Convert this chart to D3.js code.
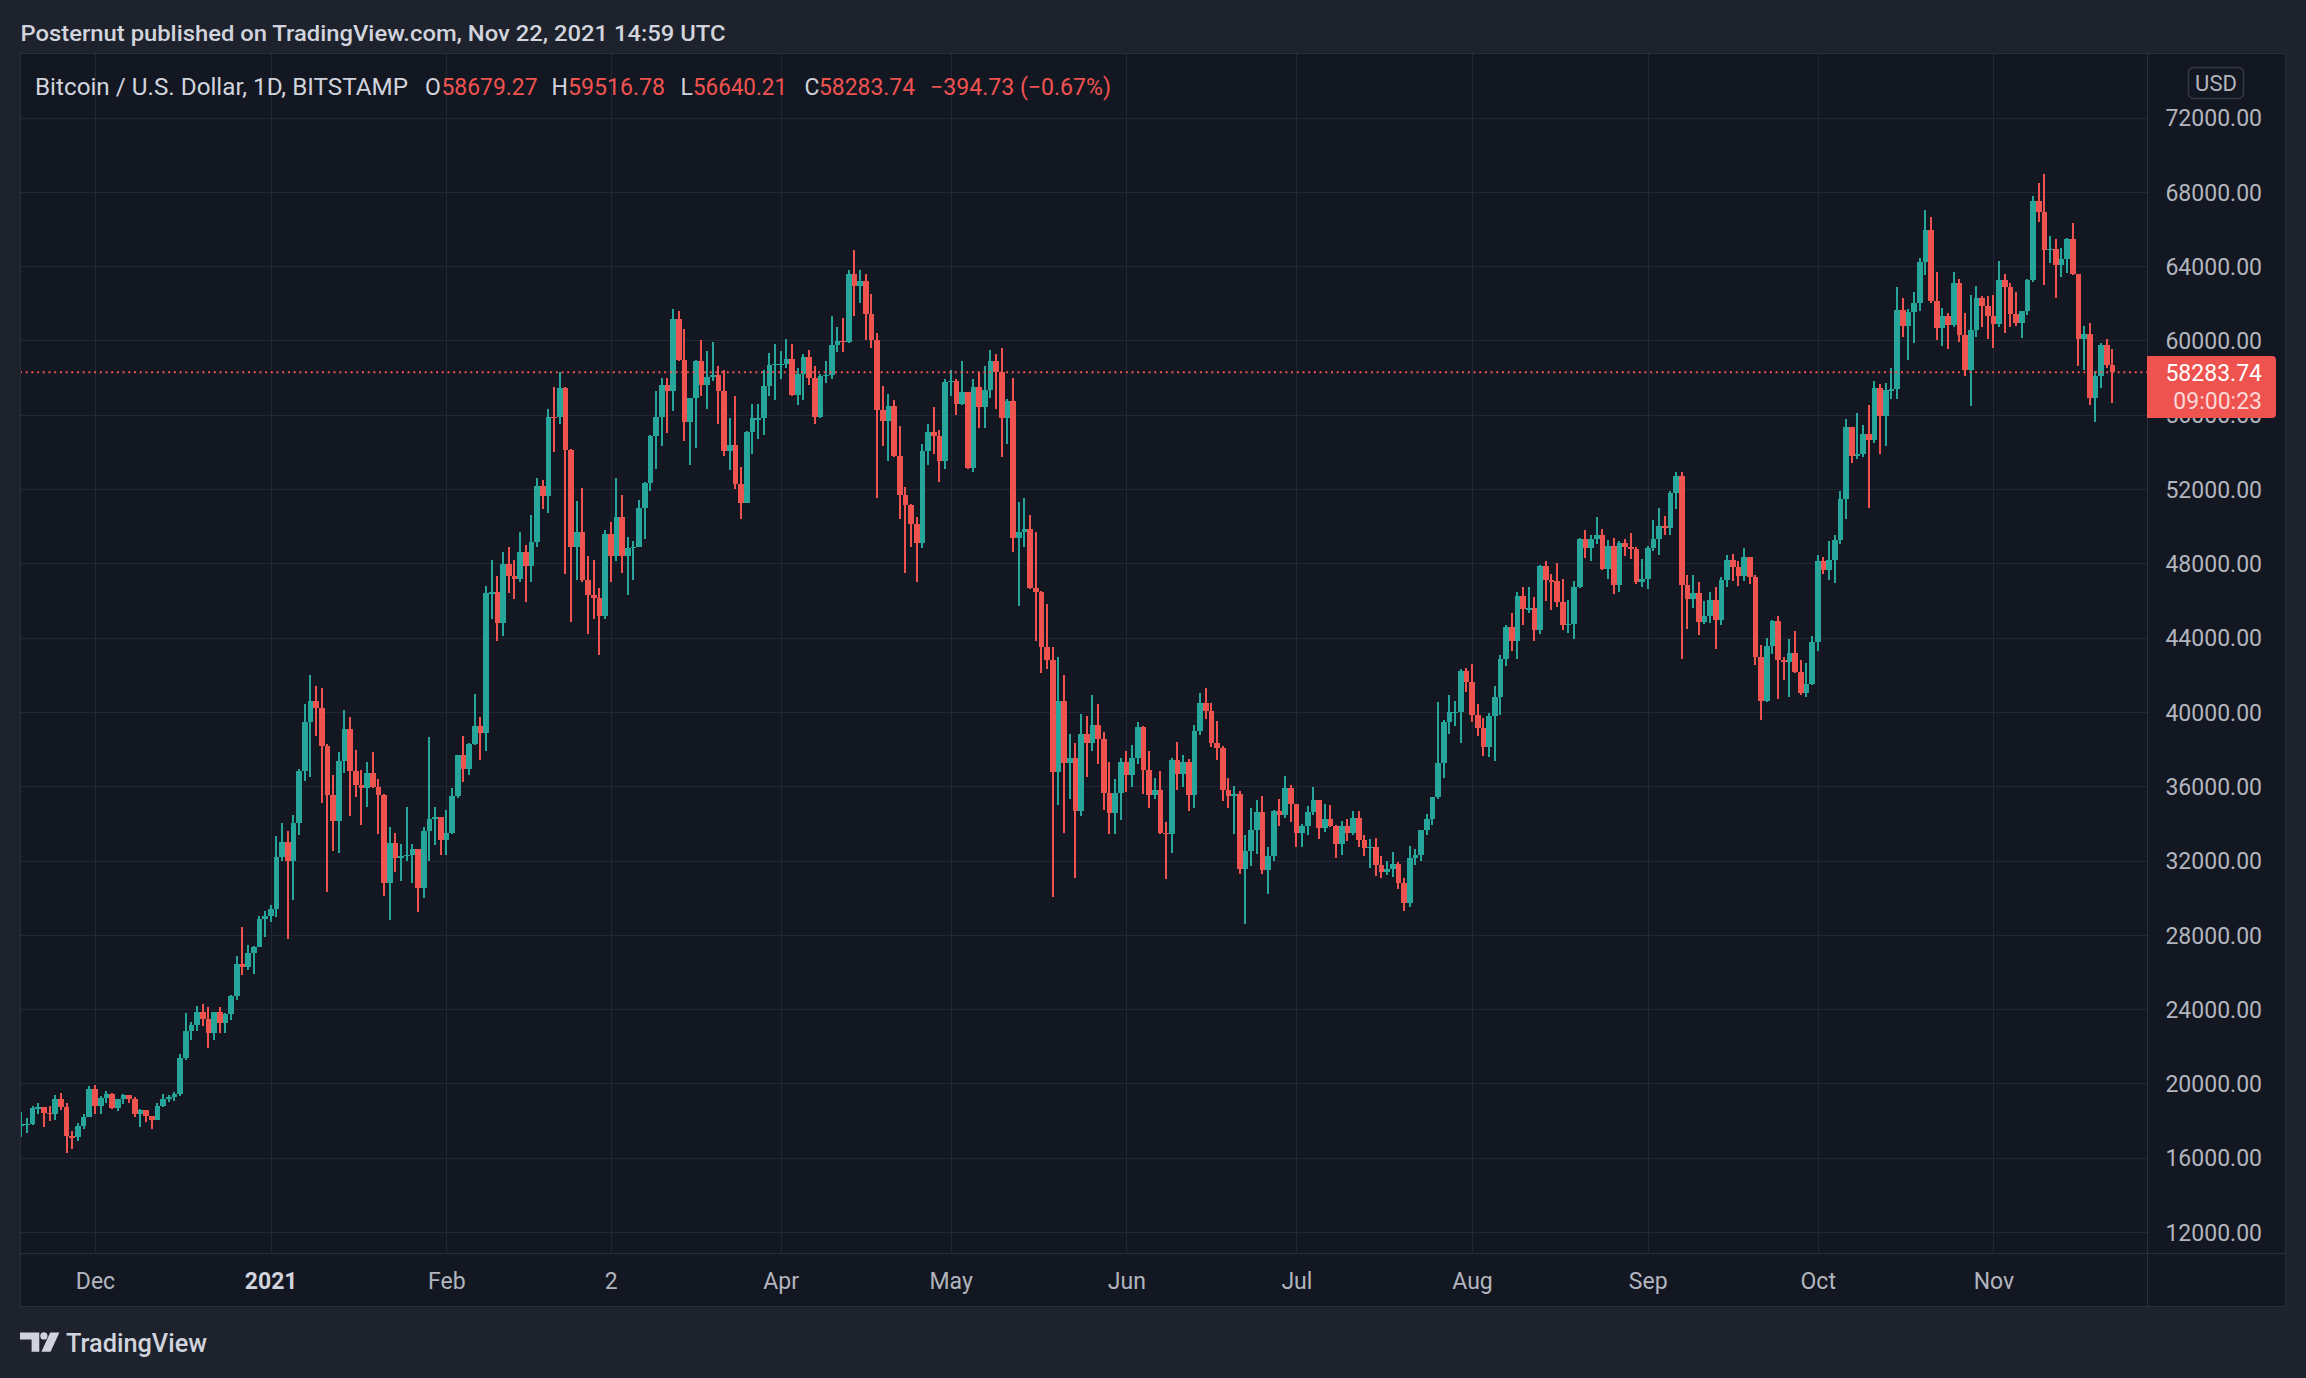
<!DOCTYPE html>
<html>
<head>
<meta charset="utf-8">
<script src="https://cdn.jsdelivr.net/npm/d3@7/dist/d3.min.js"></script>
<style>
  html, body { margin:0; padding:0; background:#1e222d; overflow:hidden; }
  svg { display:block; }
</style>
</head>
<body>
<svg id="chart" width="2306" height="1378"></svg>
<script>
// ---------------- DATA (BTC/USD daily, Bitstamp, 2020-11-18 .. 2021-11-22) ----------------
const startDate = "2020-11-18";

const opens = [
 17780,17810,17820,18680,18720,18420,18370,19160,18720,17150,17130,17720,18180,
 19700,18770,19220,19440,18700,19150,19370,19180,18330,18550,18250,18040,18800,19160,19270,19440,21350,22820,23140,23860,23480,22740,23820,23240,23730,24690,26440,26250,27030,27360,28860,
 28990,29390,32180,33000,31990,34020,36820,39460,40610,40200,38180,35500,34120,37370,39100,36800,36050,35880,36720,35980,35500,30790,32950,32120,32250,32300,32600,30540,33590,34250,34320,
 33080,33500,35470,37670,36920,38290,39260,38840,46400,46450,44760,47960,47330,47150,48600,47880,49140,52170,51600,55900,55880,57440,54100,48900,49700,47100,46300,46150,
 45140,49600,48400,50500,48400,48800,48900,51000,52300,54850,55850,57600,57300,61150,58950,55600,56900,58900,57600,58050,58150,57300,54050,54350,52250,51250,55050,55800,55800,57550,58700,
 58750,58750,59000,57050,58200,59100,57980,55850,58100,58150,59750,59970,59900,63550,62920,63200,61420,60030,56230,55680,56480,53750,51700,51130,50100,49080,54050,55060,54850,53520,
 57770,57830,56550,57200,53150,57500,56400,57330,58900,58280,55830,56750,49350,49700,49850,46650,46450,43520,42820,36750,40600,37260,37500,34650,38800,38350,39270,38550,35650,34580,35650,
 37300,36620,37500,39190,36860,35510,35800,33500,33400,37390,36660,37300,35550,38960,40470,40050,38350,38050,35800,35460,35600,31540,32500,33640,34610,31490,32240,34680,34460,35900,
 35040,33500,33880,34630,35260,33740,34230,33860,32870,33840,33500,34290,33100,32650,32750,31780,31400,31530,31800,30770,29730,32120,32300,33640,34260,35430,37230,39470,39980,40020,42200,
 41630,39830,39120,38130,39760,40820,42830,44590,43800,46240,45550,45590,44420,47830,47100,47030,45930,44690,44750,46750,49300,48850,49300,49550,47700,48950,46850,49070,48900,48780,47020,
 47150,48850,49300,50030,49920,51800,52700,46840,46060,46380,44830,45160,46030,44930,47100,48160,47800,47300,48330,47240,42950,40600,43560,44900,42780,42700,43180,42160,41020,41520,
 43780,48120,47650,48200,49250,51460,55360,53780,53900,54950,54660,57440,55950,57330,57360,61640,60800,61540,62010,64230,65970,62120,60650,61330,60840,63090,60280,58420,60580,62260,61870,
 61300,60900,63250,62880,61400,60940,61560,63250,67520,66900,64850,64930,64080,64390,65460,63560,60100,60340,56880,58080,59750,58679.27
];

const highs = [
 18480,18150,18800,18960,18730,18770,19400,19480,18920,17450,17880,18330,19860,
 19920,19320,19570,19500,19170,19420,19400,19290,18640,18560,18270,18950,19410,19350,19560,21560,23770,23280,24170,24300,24100,23840,24100,23780,24770,26860,28400,27450,27400,28990,29300,
 29600,33300,34000,33600,34450,36940,40400,41990,41380,41300,38270,36600,37850,40100,39700,37950,36850,37300,37850,36400,35600,33800,33500,32900,34870,32900,32600,33800,38650,34900,34320,
 34700,35900,37700,38700,38300,40950,39700,46800,48180,47300,48600,48900,48200,49700,49000,50600,52600,52500,56300,57500,58300,57500,54150,51380,52050,48400,48200,46650,
 49800,50200,52600,51700,49400,49200,51400,52400,54900,57300,58000,58000,61700,61600,60600,56900,58950,60000,59450,59900,58600,58400,55800,57000,53200,55100,56600,56600,58400,59300,59800,
 59450,60100,59800,58500,59250,59500,58600,58200,58900,61300,60700,61200,63800,64870,63800,63550,62500,60400,57550,57100,56800,55400,52100,51200,50500,54400,55500,56400,55200,57900,
 58400,57900,58900,57200,57900,58300,58600,59500,59250,59600,56850,58000,51300,51500,50600,49700,46500,45800,43500,42940,42000,38800,38300,39900,39800,40900,40400,38900,37300,36400,37500,
 37900,38200,39450,39250,37900,36450,36800,34050,37500,38400,37700,37450,39300,41000,41300,40500,39500,38150,36450,36000,35750,33350,34800,35250,35450,32700,34700,35300,36550,36050,
 35050,33950,34950,35950,35260,35050,35000,33900,34100,34250,34650,34650,33350,33150,33200,32250,31950,32450,31900,31050,32800,32600,33600,34500,35400,40540,39550,40900,40600,42300,42350,
 42600,40450,39650,39950,41400,43050,44700,45300,46450,46700,46750,46200,47900,48150,47400,48000,47150,46000,47050,49350,49800,49500,50500,49850,49250,49350,49200,49300,49650,48900,48250,
 48950,50350,51000,50550,51900,52900,52900,47350,47350,47000,45950,46450,46750,47250,48450,48500,48150,48800,48350,47350,43600,44000,44950,45150,42950,43900,44350,42800,42650,44100,
 48450,48350,49200,49500,51900,55750,55350,56100,55450,56500,57800,57650,57700,58500,62900,62300,61700,62600,64450,67000,66650,63700,61750,61450,63700,63300,61450,62450,62950,62400,62400,
 62450,64300,63550,63100,62600,61550,63300,67750,68500,68960,65600,65450,64950,65500,66300,63600,60800,60950,58350,59850,60050,59516.78
];

const lows = [
 17100,17350,17760,18350,17650,18000,18030,18560,16250,16450,16900,17530,18180,
 18330,18350,18940,18600,18520,18900,18920,18200,17650,17910,17570,18020,18740,19000,19050,19300,21240,22350,22800,23100,21900,22360,22700,22700,23440,24500,25850,26100,25880,27330,27900,
 28700,28950,32000,27780,29900,33350,36300,36500,38700,35100,30300,32500,32400,36700,34400,35400,33900,34900,35900,33400,30070,28820,31400,30900,31950,30800,29240,30000,31950,32850,32300,
 32300,33400,35380,36200,36600,38200,37400,37900,45000,43800,44100,46400,46100,47000,45900,47000,48900,50900,50700,54000,55500,47400,44860,47100,47000,44190,45000,43040,
 45000,47000,48100,47500,46300,47100,48900,49300,51900,53100,54300,55000,56200,58900,54600,53300,54200,57000,56300,57800,55500,53800,53000,52000,50400,51300,53900,54700,54900,57000,56800,
 57900,58500,57000,56500,56800,57600,55500,55800,57700,57900,59400,59400,59850,61300,62000,60000,59600,51540,54300,53500,53700,50400,47500,48900,47000,48800,53300,53900,52400,53100,
 57000,56000,56500,53100,52900,55300,55300,56900,56300,53700,54400,48600,45700,48900,46600,43800,42100,42300,30050,35000,33500,35300,31070,34400,36500,37900,37200,34700,33400,33400,34200,
 35700,35950,37200,35600,34800,35300,33400,31000,32400,35800,35950,34650,34800,38750,39600,38100,37400,35200,34850,33400,31300,28600,31700,32350,31300,30200,32000,33850,34300,34050,
 32750,32700,33350,34450,33150,33550,33800,32150,32300,33050,33350,32700,32250,31600,31150,31050,31200,31100,30450,29300,29500,31750,31950,33350,33900,35300,36450,38800,39250,38350,41050,
 39450,38700,37650,37550,37350,39850,42450,43300,42850,44700,45350,43800,44200,45950,45500,45650,44400,44250,43950,46650,48300,48100,49050,47650,47150,46350,46450,48400,48250,46900,46700,
 46600,48650,48450,49500,49500,50950,42860,44450,45600,44150,44750,44800,43400,44700,46700,47050,46800,47050,46900,42500,39560,40550,43100,40700,41700,40800,42100,40900,40800,41450,
 43300,47450,47100,46950,49050,50400,53400,53600,53700,51000,54450,53900,54300,56850,56850,60200,58950,59850,61600,63500,62000,60000,59700,59550,60700,59900,58100,56450,60200,60700,60050,
 59600,60700,60400,60700,60750,60150,61350,63150,66400,63000,64150,62300,63400,63650,63500,58600,58400,56500,55630,57450,58500,56640.21
];

const closes = [
 17810,17820,18680,18720,18420,18370,19160,18720,17150,17130,17720,18180,19700,
 18770,19220,19440,18700,19150,19370,19180,18330,18550,18250,18040,18800,19160,19270,19440,21350,22820,23140,23860,23480,22740,23820,23240,23730,24690,26440,26250,27030,27360,28860,28990,
 29390,32180,33000,31990,34020,36820,39460,40610,40200,38180,35500,34120,37370,39100,36800,36050,35880,36720,35980,35500,30790,32950,32120,32250,32300,32600,30540,33590,34250,34320,33080,
 33500,35470,37670,36920,38290,39260,38840,46400,46450,44760,47960,47330,47150,48600,47880,49140,52170,51600,55900,55880,57440,54100,48900,49700,47100,46300,46150,45140,
 49600,48400,50500,48400,48800,48900,51000,52300,54850,55850,57600,57300,61150,58950,55600,56900,58900,57600,58050,58150,57300,54050,54350,52250,51250,55050,55800,55800,57550,58700,58750,
 58750,59000,57050,58200,59100,57980,55850,58100,58150,59750,59970,59900,63550,62920,63200,61420,60030,56230,55680,56480,53750,51700,51130,50100,49080,54050,55060,54850,53520,57770,
 57830,56550,57200,53150,57500,56400,57330,58900,58280,55830,56750,49350,49700,49850,46650,46450,43520,42820,36750,40600,37260,37500,34650,38800,38350,39270,38550,35650,34580,35650,37300,
 36620,37500,39190,36860,35510,35800,33500,33400,37390,36660,37300,35550,38960,40470,40050,38350,38050,35800,35460,35600,31540,32500,33640,34610,31490,32240,34680,34460,35900,35040,
 33500,33880,34630,35260,33740,34230,33860,32870,33840,33500,34290,33100,32650,32750,31780,31400,31530,31800,30770,29730,32120,32300,33640,34260,35430,37230,39470,39980,40020,42200,41630,
 39830,39120,38130,39760,40820,42830,44590,43800,46240,45550,45590,44420,47830,47100,47030,45930,44690,44750,46750,49300,48850,49300,49550,47700,48950,46850,49070,48900,48780,47020,47150,
 48850,49300,50030,49920,51800,52700,46840,46060,46380,44830,45160,46030,44930,47100,48160,47800,47300,48330,47240,42950,40600,43560,44900,42780,42700,43180,42160,41020,41520,43780,
 48120,47650,48200,49250,51460,55360,53780,53900,54950,54660,57440,55950,57330,57360,61640,60800,61540,62010,64230,65970,62120,60650,61330,60840,63090,60280,58420,60580,62260,61870,61300,
 60900,63250,62880,61400,60940,61560,63250,67520,66900,64850,64930,64080,64390,65460,63560,60100,60340,56880,58080,59750,58678.47,58283.74
];

const priceTicks = [12000,16000,20000,24000,28000,32000,36000,40000,44000,48000,52000,56000,60000,64000,68000,72000];
const monthTickDates = ["2020-12-01","2021-01-01","2021-02-01","2021-03-02","2021-04-01","2021-05-01","2021-06-01","2021-07-01","2021-08-01","2021-09-01","2021-10-01","2021-11-01"];
const monthTickLabels = ["Dec","2021","Feb","2","Apr","May","Jun","Jul","Aug","Sep","Oct","Nov"];

const headerText = "Posternut published on TradingView.com, Nov 22, 2021 14:59 UTC";
const symbolTitle = "Bitcoin / U.S. Dollar, 1D, BITSTAMP";
const currencyLabel = "USD";
const countdownText = "09:00:23";
const brandText = "TradingView";

// ---------------- STYLE ----------------
const UP = "#26a69a", DOWN = "#ef5350";
const FONT = "Roboto, 'Liberation Sans', Arial, sans-serif";
const TEXT = "#d1d4dc", AXIS_TEXT = "#b2b5be";
const BG_OUT = "#1e222d", BG_PANE = "#131722", GRID = "#232733", BORDER = "#2a2e39";

const W = 2306, H = 1378;
const pane = {l: 20, t: 53, r: 2286, b: 1307};
const plot = {l: 20, t: 53, r: 2147, b: 1253};

const svg = d3.select("#chart");
svg.append("rect").attr("width", W).attr("height", H).attr("fill", BG_OUT);
svg.append("rect").attr("x", pane.l).attr("y", pane.t)
   .attr("width", pane.r - pane.l).attr("height", pane.b - pane.t).attr("fill", BG_PANE);

const parse = d3.utcParse("%Y-%m-%d");
const t0 = parse(startDate);
const data = closes.map((c, i) => ({
  date: d3.utcDay.offset(t0, i), o: opens[i], h: highs[i], l: lows[i], c: c
}));

const x = d3.scaleUtc().domain([parse("2020-12-01"), parse("2021-11-01")]).range([95, 1993.4]);
const y = d3.scaleLinear().domain([12000, 72000]).range([1232, 117.5]);
const step = x(data[1].date) - x(data[0].date);

// ---------------- GRID ----------------
const grid = svg.append("g").attr("shape-rendering", "crispEdges");
grid.selectAll("line.h").data(priceTicks).join("line").attr("class", "h")
  .attr("x1", plot.l).attr("x2", plot.r)
  .attr("y1", d => Math.round(y(d)) + 0.5).attr("y2", d => Math.round(y(d)) + 0.5)
  .attr("stroke", GRID).attr("stroke-width", 1);
grid.selectAll("line.v").data(monthTickDates.map(parse)).join("line").attr("class", "v")
  .attr("y1", plot.t).attr("y2", plot.b)
  .attr("x1", d => Math.round(x(d)) + 0.5).attr("x2", d => Math.round(x(d)) + 0.5)
  .attr("stroke", GRID).attr("stroke-width", 1);

// ---------------- CANDLES ----------------
svg.append("clipPath").attr("id", "plotclip").append("rect")
  .attr("x", plot.l + 1).attr("y", plot.t + 1).attr("width", plot.r - plot.l - 1).attr("height", plot.b - plot.t - 1);
const cg = svg.append("g").attr("clip-path", "url(#plotclip)").attr("shape-rendering", "crispEdges");
const candle = cg.selectAll("g.c").data(data).join("g").attr("class", "c")
  .attr("fill", d => d.c >= d.o ? UP : DOWN);
candle.append("rect")
  .attr("x", d => Math.round(x(d.date)) - 1).attr("width", 2)
  .attr("y", d => y(Math.max(d.h, d.o, d.c)))
  .attr("height", d => y(Math.min(d.l, d.o, d.c)) - y(Math.max(d.h, d.o, d.c)));
candle.append("rect")
  .attr("x", d => Math.round(x(d.date) - step / 2))
  .attr("width", d => Math.round(x(d.date) + step / 2) - Math.round(x(d.date) - step / 2))
  .attr("y", d => y(Math.max(d.o, d.c)))
  .attr("height", d => Math.max(1.5, Math.abs(y(d.o) - y(d.c))));

// ---------------- LAST PRICE LINE ----------------
const last = data[data.length - 1];
const prev = data[data.length - 2];
svg.append("line")
  .attr("x1", plot.l).attr("x2", plot.r)
  .attr("y1", y(last.c)).attr("y2", y(last.c))
  .attr("stroke", DOWN).attr("stroke-width", 2).attr("stroke-dasharray", "2,3.7");

// ---------------- PANE BORDERS ----------------
const borders = svg.append("g").attr("stroke", BORDER).attr("stroke-width", 1.5).attr("shape-rendering", "crispEdges");
borders.append("rect").attr("x", pane.l + 0.5).attr("y", pane.t + 0.5)
  .attr("width", pane.r - pane.l - 1).attr("height", pane.b - pane.t - 1).attr("fill", "none");
borders.append("line").attr("x1", plot.r + 0.5).attr("x2", plot.r + 0.5).attr("y1", pane.t).attr("y2", pane.b);
borders.append("line").attr("x1", pane.l).attr("x2", pane.r).attr("y1", plot.b + 0.5).attr("y2", plot.b + 0.5);

// ---------------- PRICE AXIS ----------------
const yAxis = d3.axisRight(y).tickValues(priceTicks).tickFormat(d => d.toFixed(2)).tickSize(0).tickPadding(0);
const gy = svg.append("g").attr("transform", "translate(2262,0)").call(yAxis)
  .attr("font-family", FONT).attr("font-size", 23);
gy.select(".domain").remove();
gy.selectAll("text").attr("x", 0).attr("dy", "0.36em").attr("text-anchor", "end").attr("fill", AXIS_TEXT);

// currency box
svg.append("rect").attr("x", 2188.5).attr("y", 67.5).attr("width", 55).attr("height", 31).attr("rx", 5)
  .attr("fill", BG_PANE).attr("stroke", "#363a45").attr("stroke-width", 1.5);
svg.append("text").attr("x", 2216).attr("y", 83.5).attr("dy", "0.36em").attr("text-anchor", "middle")
  .attr("font-family", FONT).attr("font-size", 22).attr("fill", AXIS_TEXT).text(currencyLabel);

// last price label
svg.append("path")
  .attr("d", "M2147,356 H2272 Q2276,356 2276,360 V414 Q2276,418 2272,418 H2147 Z")
  .attr("fill", DOWN);
svg.append("text").attr("x", 2262).attr("y", y(last.c)).attr("dy", "0.36em").attr("text-anchor", "end")
  .attr("font-family", FONT).attr("font-size", 23).attr("fill", "#ffffff").text(last.c.toFixed(2));
svg.append("text").attr("x", 2262).attr("y", 400.5).attr("dy", "0.36em").attr("text-anchor", "end")
  .attr("font-family", FONT).attr("font-size", 23).attr("fill", "rgba(255,255,255,0.78)").text(countdownText);

// ---------------- TIME AXIS ----------------
const xAxis = d3.axisBottom(x).tickValues(monthTickDates.map(parse))
  .tickFormat((d, i) => monthTickLabels[i]).tickSize(0).tickPadding(0);
const gx = svg.append("g").attr("transform", "translate(0,1281)").call(xAxis)
  .attr("font-family", FONT).attr("font-size", 23);
gx.select(".domain").remove();
gx.selectAll("text").attr("y", 0).attr("dy", "0.36em").attr("fill", AXIS_TEXT);
gx.selectAll("text").filter((d, i) => monthTickLabels[i] === "2021").attr("font-weight", "bold").attr("fill", TEXT);

// ---------------- HEADER & LEGEND ----------------
svg.append("text").attr("x", 20.5).attr("y", 40.5)
  .attr("font-family", FONT).attr("font-size", 22).attr("font-weight", 500).attr("fill", TEXT)
  .attr("textLength", 705).attr("lengthAdjust", "spacingAndGlyphs").text(headerText);

const chg = last.c - prev.c;
const pct = chg / prev.c * 100;
const minus = v => (v < 0 ? "\u2212" : "") + Math.abs(v).toFixed(2);
const valColor = last.c >= last.o ? UP : DOWN;
const legendParts = [
  {t: symbolTitle, x: 35, w: 373, c: TEXT},
  {t: "O", x: 425, c: TEXT}, {t: last.o.toFixed(2), x: 441.5, w: 96, c: valColor},
  {t: "H", x: 551.5, c: TEXT}, {t: last.h.toFixed(2), x: 568, w: 97, c: valColor},
  {t: "L", x: 680.5, c: TEXT}, {t: last.l.toFixed(2), x: 693, w: 94, c: valColor},
  {t: "C", x: 804.5, c: TEXT}, {t: last.c.toFixed(2), x: 819, w: 96, c: valColor},
  {t: minus(chg) + " (" + minus(pct) + "%)", x: 930, w: 181, c: valColor}
];
const lg = svg.append("g").attr("font-family", FONT).attr("font-size", 23);
legendParts.forEach(p => {
  const t = lg.append("text").attr("x", p.x).attr("y", 94.5).attr("fill", p.c).text(p.t);
  if (p.w) t.attr("textLength", p.w).attr("lengthAdjust", "spacingAndGlyphs");
});

// ---------------- BRAND ----------------
const brand = svg.append("g").attr("fill", TEXT);
brand.append("path").attr("d", "M20,1332.5 H39.3 V1351.7 H31.6 V1339.6 H20 Z");
brand.append("circle").attr("cx", 43.9).attr("cy", 1335.9).attr("r", 3.6);
brand.append("path").attr("d", "M50.2,1332.5 H59.4 L50.6,1351.7 H41.4 Z");
svg.append("text").attr("x", 66).attr("y", 1351.5)
  .attr("font-family", FONT).attr("font-size", 26).attr("font-weight", 500).attr("fill", TEXT)
  .attr("textLength", 141).attr("lengthAdjust", "spacingAndGlyphs").text(brandText);
</script>
</body>
</html>
